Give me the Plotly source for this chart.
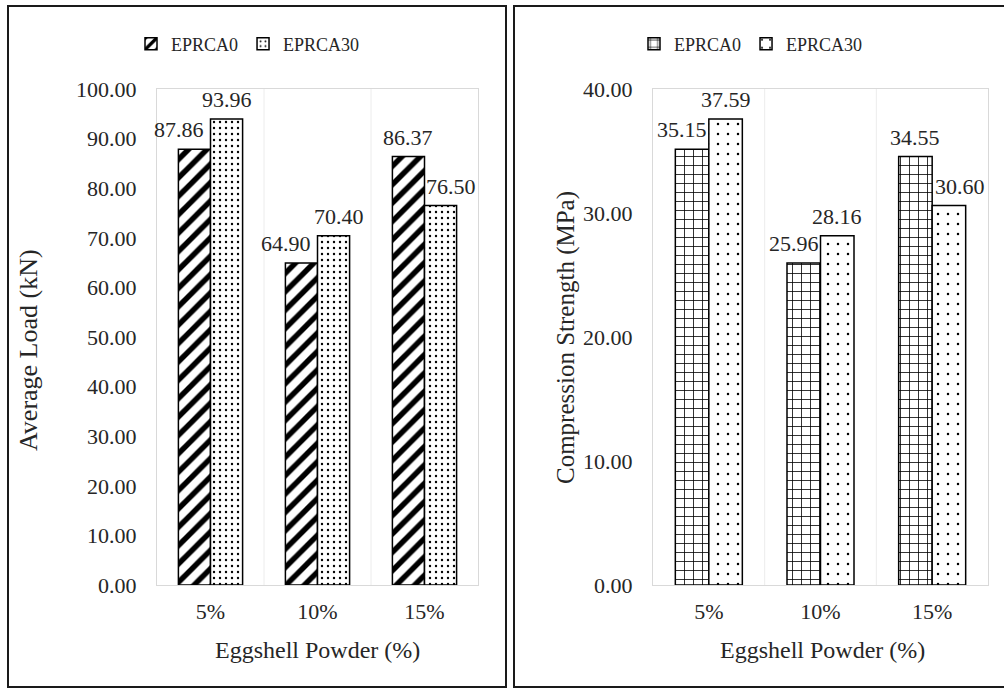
import plotly.graph_objects as go

categories = ["5%", "10%", "15%"]
load_eprca0 = [87.86, 64.90, 86.37]
load_eprca30 = [93.96, 70.40, 76.50]
strength_eprca0 = [35.15, 25.96, 34.55]
strength_eprca30 = [37.59, 28.16, 30.60]
series_names = ["EPRCA0", "EPRCA30"]

# horizontal nudges (px) of data labels, as placed in the reference
load_label_nudge0 = [-15, -15, 0]
load_label_nudge1 = [0, 5, 10]
strength_label_nudge0 = [-10, -10, 0]
strength_label_nudge1 = [0, 0, 11]

W, H = 1004, 689
FONT = "Liberation Serif"
TXT = "#262626"

def px_x(v):
    return v / W

def px_y(v):
    return (H - v) / H

fig = go.Figure()

def bar(x, y, name, shape, size, solidity, xa, ya, legend):
    return go.Bar(
        x=x, y=y, name=name, xaxis=xa, yaxis=ya, legend=legend,
        cliponaxis=False,
        marker=dict(color="white", line=dict(color="black", width=1.5),
                    pattern=dict(shape=shape, fgcolor="black", bgcolor="white",
                                 fgopacity=1, size=size, solidity=solidity)),
    )

fig.add_trace(bar(categories, load_eprca0, series_names[0], "/", 13, 0.42, "x", "y", "legend"))
fig.add_trace(bar(categories, load_eprca30, series_names[1], ".", 6, 0.12, "x", "y", "legend"))
fig.add_trace(bar(categories, strength_eprca0, series_names[0], "+", 9, 0.17, "x2", "y2", "legend2"))
fig.add_trace(bar(categories, strength_eprca30, series_names[1], ".", 10, 0.05, "x2", "y2", "legend2"))

y_top, y_bot = 89, 585
ydom = [px_y(y_bot), px_y(y_top)]

axis_common = dict(showline=True, mirror=True, linecolor="#d9d9d9", linewidth=1,
                   showgrid=False, zeroline=False, ticks="", automargin=False,
                   tickfont=dict(family=FONT, size=22, color=TXT))

legend_common = dict(orientation="h", xanchor="center", yanchor="middle",
                     font=dict(family=FONT, size=18, color=TXT), itemwidth=30,
                     bgcolor="rgba(0,0,0,0)", traceorder="normal", tracegroupgap=0)

fig.update_layout(
    width=W, height=H, autosize=False,
    margin=dict(l=0, r=0, t=0, b=0, pad=0, autoexpand=False),
    paper_bgcolor="white", plot_bgcolor="white",
    barmode="group", bargap=0.4, bargroupgap=0,
    showlegend=True,
    xaxis=dict(domain=[px_x(157), px_x(478)], anchor="y", range=[-0.5, 2.5],
               ticklabelstandoff=7, **axis_common),
    yaxis=dict(domain=ydom, anchor="x", range=[0, 100], dtick=10, tickformat=".2f",
               ticklabelstandoff=15, **axis_common),
    xaxis2=dict(domain=[px_x(653), px_x(988)], anchor="y2", range=[-0.5, 2.5],
                ticklabelstandoff=7, **axis_common),
    yaxis2=dict(domain=ydom, anchor="x2", range=[0, 40], dtick=10, tickformat=".2f",
                ticklabelstandoff=15, **axis_common),
    legend=dict(x=px_x(248), y=px_y(44), **legend_common),
    legend2=dict(x=px_x(751), y=px_y(44), **legend_common),
)

# data labels
def add_labels(vals, nudges, offset, xa, ya):
    for i, (v, n) in enumerate(zip(vals, nudges)):
        fig.add_annotation(xref=xa, yref=ya, x=i + offset, y=v, text=f"{v:.2f}",
                           showarrow=False, xanchor="center", yanchor="bottom",
                           xshift=n, yshift=5,
                           font=dict(family=FONT, size=22, color=TXT))

add_labels(load_eprca0, load_label_nudge0, -0.15, "x", "y")
add_labels(load_eprca30, load_label_nudge1, 0.15, "x", "y")
add_labels(strength_eprca0, strength_label_nudge0, -0.15, "x2", "y2")
add_labels(strength_eprca30, strength_label_nudge1, 0.15, "x2", "y2")

annotations = [
    dict(text="Average Load (kN)", x=px_x(29), y=px_y(350), textangle=-90, size=26),
    dict(text="Eggshell Powder (%)", x=px_x(317), y=px_y(650), textangle=0, size=24),
    dict(text="Compression Strength (MPa)", x=px_x(566), y=px_y(338), textangle=-90, size=25),
    dict(text="Eggshell Powder (%)", x=px_x(822), y=px_y(650), textangle=0, size=24),
]
for a in annotations:
    sz = a.pop("size")
    fig.add_annotation(xref="paper", yref="paper", showarrow=False,
                       xanchor="center", yanchor="middle",
                       font=dict(family=FONT, size=sz, color=TXT), **a)

# category dividers
for xa, ya, top in (("x", "y", 100), ("x2", "y2", 40)):
    for xv in (0.5, 1.5):
        fig.add_shape(type="line", xref=xa, yref=ya, x0=xv, x1=xv, y0=0, y1=top,
                      line=dict(color="#ececec", width=1), layer="below")

# panel borders
fig.add_shape(type="rect", xref="paper", yref="paper",
              x0=px_x(8), x1=px_x(506), y0=px_y(687), y1=px_y(6),
              line=dict(color="#1a1a1a", width=2))
fig.add_shape(type="rect", xref="paper", yref="paper",
              x0=px_x(514), x1=px_x(1010), y0=px_y(687), y1=px_y(6),
              line=dict(color="#1a1a1a", width=2))

fig.write_html("out.html", config={"displayModeBar": False},
               post_script="document.body.style.margin='0';document.body.style.overflow='hidden';")
